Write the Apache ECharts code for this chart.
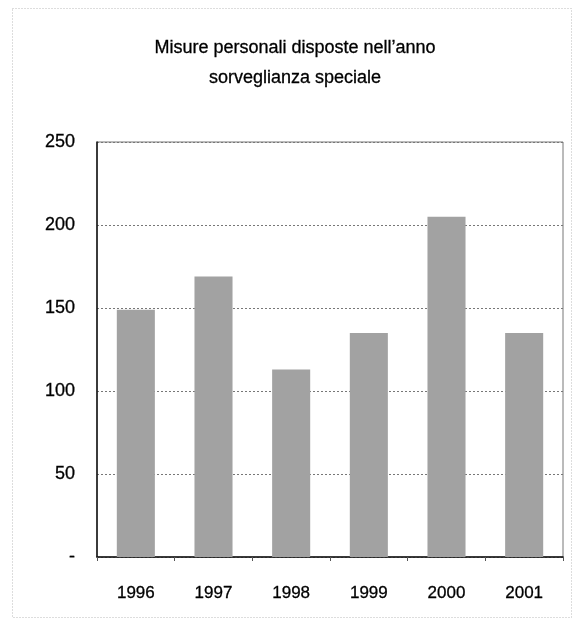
<!DOCTYPE html>
<html>
<head>
<meta charset="utf-8">
<script src="https://cdn.jsdelivr.net/npm/echarts@6/dist/echarts.min.js"></script>
<style>
  html, body { margin: 0; padding: 0; background: #fff; }
  #chart { width: 575px; height: 620px; }
</style>
</head>
<body>
<div id="chart"></div>
<script>
// dati
var anni = ['1996', '1997', '1998', '1999', '2000', '2001'];
var misure = [149, 169, 113, 135, 205, 135];
var titolo = ['Misure personali disposte nell\u2019anno', 'sorveglianza speciale'];

var myChart = echarts.init(document.getElementById('chart'));

var option = {
    animation: false,
    backgroundColor: '#fff',
    textStyle: { fontFamily: 'Liberation Sans, Arial, sans-serif' },
    title: {
        text: titolo.join('\n'),
        left: 290,
        textAlign: 'center',
        top: 28,
        textStyle: {
            fontSize: 18,
            fontWeight: 'normal',
            color: '#000',
            lineHeight: 30,
            textBorderColor: '#000',
            textBorderWidth: 0.3
        }
    },
    graphic: [
        {
            // cornice esterna puntinata
            type: 'rect',
            shape: { x: 12.5, y: 8.5, width: 559, height: 609 },
            style: { fill: 'none', stroke: '#bbb', lineWidth: 1, lineDash: [1, 2] },
            silent: true
        }
    ],
    grid: {
        left: 97,
        right: 12,
        top: 142,
        bottom: 63,
        show: true,
        borderColor: '#777',
        borderWidth: 1
    },
    xAxis: {
        type: 'category',
        data: anni,
        axisLine: { lineStyle: { color: '#111', width: 1.5 } },
        axisTick: { show: true, length: 4, lineStyle: { color: '#555' } },
        axisLabel: {
            fontSize: 17, color: '#000', margin: 28,
            textBorderColor: '#000', textBorderWidth: 0.3
        }
    },
    yAxis: {
        type: 'value',
        min: 0,
        max: 250,
        interval: 50,
        axisLine: { show: true, lineStyle: { color: '#111', width: 1.5 } },
        axisTick: { show: false },
        splitLine: { lineStyle: { type: [2, 2], color: '#777' } },
        axisLabel: {
            fontSize: 18,
            color: '#000',
            margin: 22,
            textBorderColor: '#000',
            textBorderWidth: 0.3,
            formatter: function (v) { return v === 0 ? '-' : v; }
        }
    },
    series: [
        {
            type: 'bar',
            data: misure,
            barWidth: '49%',
            itemStyle: { color: '#a2a2a2' }
        }
    ]
};

myChart.setOption(option);
</script>
</body>
</html>
